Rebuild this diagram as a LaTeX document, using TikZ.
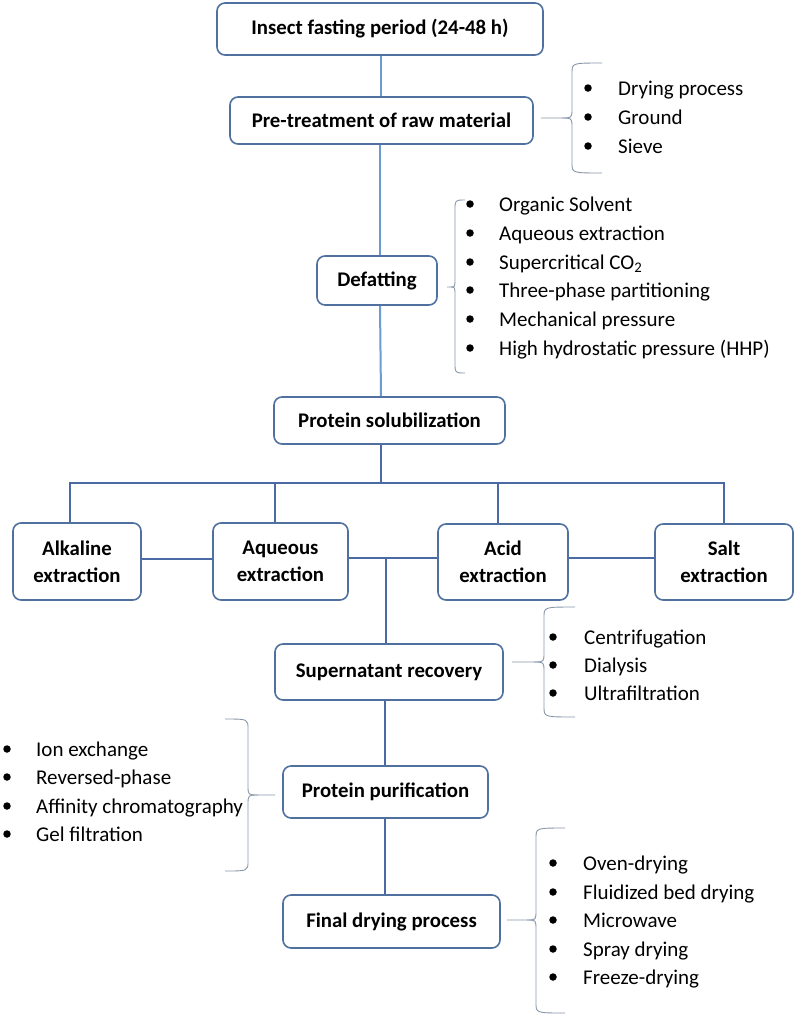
\documentclass[tikz,border=0pt]{standalone}
\usepackage{fontspec}
\setmainfont{Carlito}
\definecolor{boxc}{HTML}{50709F}
\definecolor{ltc}{HTML}{6B9BD0}
\definecolor{dkc}{HTML}{4A6AA5}
\definecolor{brcol}{HTML}{8796AA}
\newcommand\mybrace[7]{% stub, point, vertical, curl, top, mid, bottom
  \draw[brc] (#1,#6) -- (#2,#6) .. controls (#3,#6) .. ({#3},{#6-10}) -- ({#3},{#5+10}) .. controls (#3,#5) .. (#4,#5);
  \draw[brc] (#2,#6) .. controls (#3,#6) .. ({#3},{#6+10}) -- ({#3},{#7-10}) .. controls (#3,#7) .. (#4,#7);}
\begin{document}
\begin{tikzpicture}[x=1pt,y=-1pt,
  box/.style={draw=boxc, line width=1.6pt, rounded corners=8pt, fill=white, align=center,
    font=\fontsize{20.8}{27}\selectfont\bfseries, inner sep=0pt},
  lt/.style={draw=ltc, line width=2pt},
  dk/.style={draw=dkc, line width=2.2pt},
  brc/.style={draw=brcol, line width=0.9pt},
  item/.style={anchor=west, font=\fontsize{21}{25}\selectfont, inner sep=0pt, text height=14pt, text depth=0pt},
  dot/.style={circle, fill=black, inner sep=0pt, minimum size=7.5pt}]
\useasboundingbox (0,0) rectangle (796,1018);

% boxes
\node[box, minimum width=326pt, minimum height=52pt] (b1) at (380,29) {Insect fasting period (24-48 h)};
\node[box, minimum width=303pt, minimum height=47pt] (b2) at (381.5,120.5) {Pre-treatment of raw material};
\node[box, minimum width=120pt, minimum height=49pt] (b3) at (377,280.5) {Defatting};
\node[box, minimum width=231pt, minimum height=47pt] (b4) at (389.5,420.5) {Protein solubilization};
\node[box, minimum width=128pt, minimum height=77pt] (alk) at (77,561.5) {Alkaline\\extraction};
\node[box, minimum width=135pt, minimum height=77pt] (aq) at (280.5,561.5) {Aqueous\\extraction};
\node[box, minimum width=130pt, minimum height=76pt] (ac) at (503,562) {Acid\\extraction};
\node[box, minimum width=138pt, minimum height=76pt] (sa) at (724,562) {Salt\\extraction};
\node[box, minimum width=228pt, minimum height=56pt] (sup) at (389,672) {Supernatant recovery};
\node[box, minimum width=205pt, minimum height=52pt] (pur) at (385.5,792) {Protein purification};
\node[box, minimum width=217pt, minimum height=53pt] (fin) at (391.5,921.5) {Final drying process};

% junction coordinates
\coordinate (s1) at (381,0);
\coordinate (s2) at (380,0);
\coordinate (bar) at (381,483);
\coordinate (jl) at (70,483);
\coordinate (jr) at (724,483);
\coordinate (dA) at (275,483);
\coordinate (dC) at (498,483);
\coordinate (mid) at (386,558);
\coordinate (s3) at (385,0);

% connectors
\draw[lt] (b1.south -| s1) -- (b2.north -| s1);
\draw[lt] (b2.south -| s2) -- (b3.north -| s2);
\draw[lt] (b3.south -| s2) -- (b4.north -| s1);
\draw[dk] (b4.south -| bar) -- (bar);
\draw[dk] (alk.north -| jl) -- (jl) -- (jr) -- (sa.north -| jr);
\draw[dk] (dA) -- (aq.north -| dA);
\draw[dk] (dC) -- (ac.north -| dC);
\draw[dk] (alk.east |- 0,559) -- (aq.west |- 0,559);
\draw[dk] (aq.east |- mid) -- (ac.west |- mid);
\draw[dk] (ac.east |- mid) -- (sa.west |- mid);
\draw[dk] (mid) -- (sup.north -| mid);
\draw[dk] (sup.south -| s3) -- (pur.north -| s3);
\draw[dk] (pur.south -| s3) -- (fin.north -| s3);

% braces
\mybrace{541}{562}{572}{602}{63}{118}{173}
\mybrace{447}{451}{455}{465}{200}{287}{373}
\mybrace{512}{534}{544}{575}{607}{662}{717}
\mybrace{275}{258}{248}{225}{719}{795}{871}
\mybrace{507}{527}{536}{565}{828}{920}{1013}

% item lists
\foreach \t/\y in {Drying process/88, Ground/117, Sieve/146}{
  \node[dot] at (588,\y) {}; \node[item] at (618,\y) {\t};}
\foreach \t/\y in {Organic Solvent/204, Aqueous extraction/233, Supercritical CO\textsubscript{2}/262, Three-phase partitioning/290, Mechanical pressure/319, High hydrostatic pressure (HHP)/348}{
  \node[dot] at (470,\y) {}; \node[item] at (499,\y) {\t};}
\foreach \t/\y in {Centrifugation/637, Dialysis/665, Ultrafiltration/693}{
  \node[dot] at (553,\y) {}; \node[item] at (584,\y) {\t};}
\foreach \t/\y in {Ion exchange/749, Reversed-phase/777, Affinity chromatography/806, Gel filtration/834}{
  \node[dot] at (7,\y) {}; \node[item] at (36,\y) {\t};}
\foreach \t/\y in {Oven-drying/863, Fluidized bed drying/892, Microwave/920, Spray drying/949, Freeze-drying/977}{
  \node[dot] at (553,\y) {}; \node[item] at (583,\y) {\t};}
\end{tikzpicture}
\end{document}
